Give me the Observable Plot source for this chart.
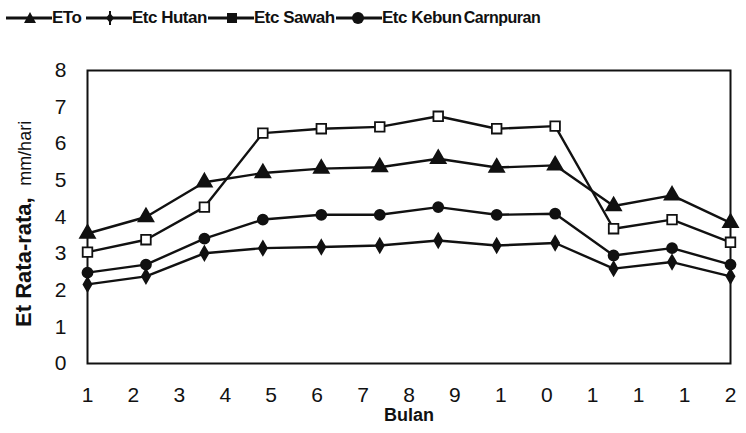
<!DOCTYPE html>
<html>
<head>
<meta charset="utf-8">
<script src="https://cdn.jsdelivr.net/npm/d3@7"></script>
<script src="https://cdn.jsdelivr.net/npm/@observablehq/plot@0.6"></script>
<style>
  body { margin: 0; background: #fff; font-family: "Liberation Sans", Arial, sans-serif; }
  #legend { position: relative; height: 40px; width: 746px; }
  .item { position: absolute; top: 8px; display: flex; align-items: center; font-weight: bold; font-size: 17px; color: #111; white-space: nowrap; }
  .item svg { display: block; }
  .item span { margin-left: -2px; letter-spacing: -0.5px; }
  .small { font-size: 16px; letter-spacing: -0.6px; }
</style>
</head>
<body>
<div id="legend"></div>
<div id="chart"></div>
<script>
// ---- data ----
const months = [1, 2, 3, 4, 5, 6, 7, 8, 9, 10, 11, 12];
const seriesNames = ["ETo", "Etc Hutan", "Etc Sawah", "Etc Kebun Carnpuran"];
const eto      = [3.55, 4.00, 4.95, 5.20, 5.32, 5.36, 5.59, 5.35, 5.41, 4.30, 4.59, 3.84];
const etcHutan = [2.16, 2.38, 3.01, 3.15, 3.18, 3.22, 3.36, 3.22, 3.29, 2.59, 2.77, 2.38];
const etcSawah = [3.04, 3.38, 4.27, 6.29, 6.41, 6.46, 6.75, 6.41, 6.48, 3.68, 3.93, 3.31];
const etcKebun = [2.48, 2.70, 3.41, 3.93, 4.06, 4.06, 4.27, 4.06, 4.09, 2.95, 3.15, 2.70];
const yTicks = [0, 1, 2, 3, 4, 5, 6, 7, 8];
const xTickLabels = ["1", "2", "3", "4", "5", "6", "7", "8", "9", "1", "0", "1", "1", "1", "2"];
const xTitle = "Bulan";
const yTitleMain = "Et Rata-rata,";
const yTitleUnit = "mm/hari";

const seriesValues = [eto, etcHutan, etcSawah, etcKebun];
const symbols = ["triangle", "diamond", "square", "circle"];
const fills = ["#111", "#111", "#fff", "#111"];
const radii = [5.5, 4.2, 5.4, 5];

const data = seriesNames.flatMap((name, s) =>
  months.map((m, i) => ({ series: name, month: m, value: seriesValues[s][i] }))
);

// evenly spaced label positions across the month domain (as in the original)
const xTickPos = xTickLabels.map((_, i) => 1 + i * 11 / (xTickLabels.length - 1));

// ---- legend ----
const legendX = [4, 84, 206, 334];
const legend = document.getElementById("legend");
seriesNames.forEach((name, s) => {
  const item = document.createElement("div");
  item.className = "item";
  item.style.left = legendX[s] + "px";
  const sym = symbols[s];
  let marker = "";
  if (sym === "triangle") marker = `<path d="M26,4 L32,15 L20,15 Z" fill="#111"/>`;
  else if (sym === "diamond") marker = `<path d="M26,5 L30,10 L26,15 L22,10 Z" fill="#111"/><line x1="26" y1="3" x2="26" y2="17" stroke="#111" stroke-width="2"/>`;
  else if (sym === "square") marker = `<rect x="21" y="5" width="10" height="10" fill="#111"/>`;
  else marker = `<circle cx="24" cy="10" r="6" fill="#111"/>`;
  const svg = `<svg width="50" height="20"><line x1="2" y1="10" x2="48" y2="10" stroke="#111" stroke-width="3"/>${marker}</svg>`;
  let label = name;
  if (name === "Etc Kebun Carnpuran") label = `Etc Kebun <span class="small">Carnpuran</span>`;
  item.innerHTML = svg + `<span>${label}</span>`;
  legend.appendChild(item);
});

// ---- chart ----
const chart = Plot.plot({
  width: 746,
  height: 393,
  marginTop: 30,
  marginBottom: 70,
  marginLeft: 87,
  marginRight: 16,
  style: { fontFamily: "Liberation Sans, Arial, sans-serif", color: "#111", background: "#fff" },
  x: { domain: [1, 12] },
  y: { domain: [0, 8] },
  marks: [
    Plot.frame({ stroke: "#111", strokeWidth: 2 }),
    Plot.axisY({ ticks: yTicks, tickSize: 0, tickPadding: 21, fontSize: 21, label: null }),
    Plot.axisX({
      ticks: xTickPos,
      tickFormat: d => xTickLabels[Math.round((d - 1) * (xTickLabels.length - 1) / 11)],
      tickSize: 0, tickPadding: 24, fontSize: 21, label: null
    }),
    Plot.text([xTitle], { frameAnchor: "bottom", dy: 57, fontSize: 18, fontWeight: "bold", text: d => d }),
    Plot.text([yTitleMain], { x: 1, y: 1, dx: -64, rotate: -90, textAnchor: "start", fontSize: 22, fontWeight: "bold", text: d => d }),
    Plot.text([yTitleUnit], { x: 1, y: 4.85, dx: -62, rotate: -90, textAnchor: "start", fontSize: 18, text: d => d }),
    Plot.line(data, { x: "month", y: "value", z: "series", stroke: "#111", strokeWidth: 2.4 }),
    ...seriesNames.map((name, s) =>
      Plot.dot(data.filter(d => d.series === name), {
        x: "month", y: "value", symbol: () => symbols[s],
        r: radii[s], fill: fills[s], stroke: "#111", strokeWidth: 1.8
      })
    )
  ]
});
document.getElementById("chart").appendChild(chart);
</script>
</body>
</html>
